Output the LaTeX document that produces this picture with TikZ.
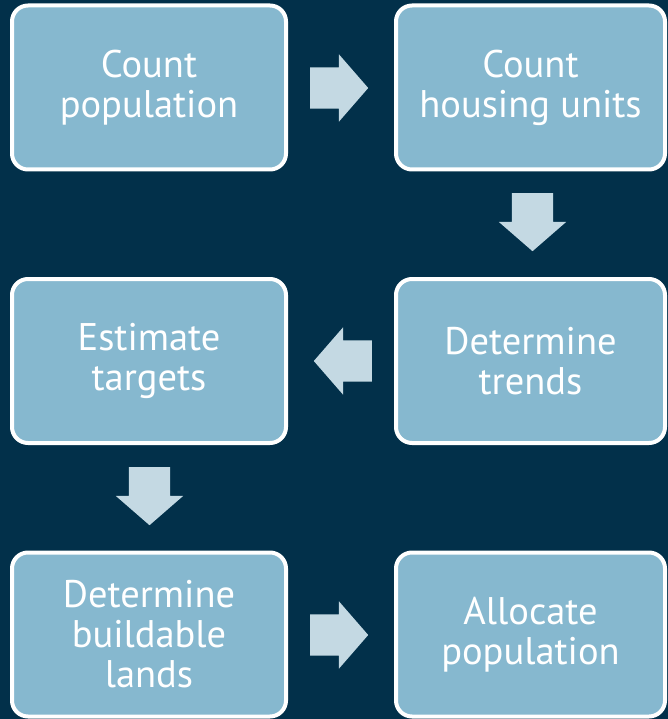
\documentclass[tikz,border=0pt]{standalone}
\usepackage{fontspec}
\setmainfont{PT Sans}
\usetikzlibrary{shapes.arrows}
\definecolor{bgnavy}{HTML}{02304A}
\definecolor{boxblue}{HTML}{86B8CF}
\definecolor{arrowpale}{HTML}{C4D9E3}
\begin{document}
\begin{tikzpicture}[x=1pt,y=-1pt,
  stepbox/.style={draw=white,line width=4pt,fill=boxblue,rounded corners=16pt,
    minimum height=164pt,text=white,align=center,inner sep=0pt,
    font=\fontsize{38.5}{40}\selectfont},
  leftbox/.style={stepbox,minimum width=274pt},
  rightbox/.style={stepbox,minimum width=269pt},
  blockarrow/.style={single arrow,fill=arrowpale,draw=none,inner xsep=0pt,
    inner ysep=20.5pt,text height=0pt,text depth=0pt,
    minimum height=58pt,single arrow head extend=13pt,
    single arrow tip angle=98,anchor=tail}]
\fill[bgnavy] (0,0) rectangle (668,719);
\useasboundingbox (0,0) rectangle (668,719);
\node[leftbox]  (b1) at (149,87.5)    {Count\\population};
\node[rightbox] (b2) at (530.5,87.5)  {Count\\housing units};
\node[rightbox] (b3) at (530.5,361)   {Determine\\trends};
\node[leftbox]  (b4) at (149,361)     {Estimate\\targets};
\node[leftbox]  (b5) at (149,634.5)   {Determine\\buildable\\lands};
\node[rightbox] (b6) at (530.5,634.5) {Allocate\\population};
\node[blockarrow] (a1) at (310,88) {};
\node[blockarrow,rotate=-90] (a2) at (532.5,193) {};
\node[blockarrow,rotate=180] (a3) at (372,361) {};
\node[blockarrow,rotate=-90] (a4) at (149.5,467) {};
\node[blockarrow] (a5) at (310,635) {};
\end{tikzpicture}
\end{document}
